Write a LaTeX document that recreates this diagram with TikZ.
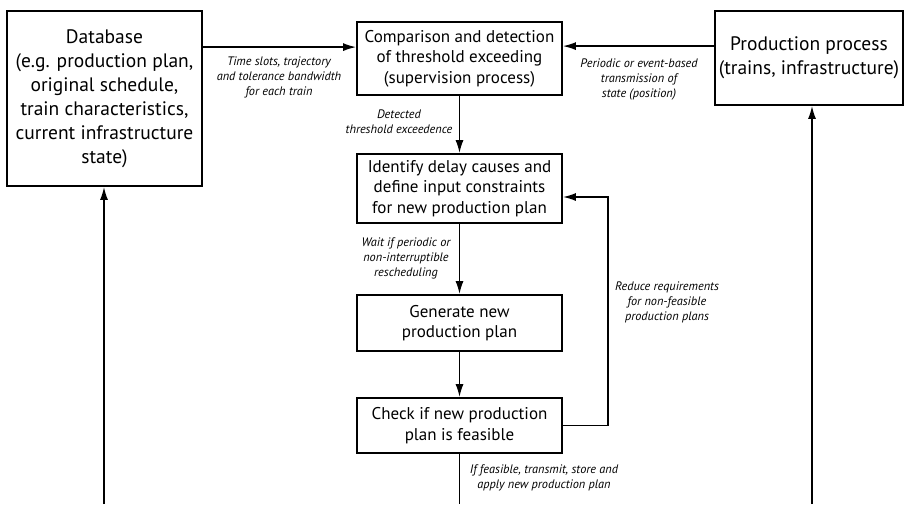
\documentclass[tikz,border=0pt]{standalone}
\usepackage{fontspec,tikz}
\usetikzlibrary{arrows.meta}
\setmainfont{PT Sans}

\begin{document}
\begin{tikzpicture}[x=1pt,y=-1pt,
  box/.style={draw,line width=1.8pt,inner sep=0pt,align=center,font=\fontsize{17.0}{20.5}\selectfont},
  bigbox/.style={box,font=\fontsize{19.5}{24.0}\selectfont},
  lbl/.style={inner sep=0pt,align=center,font=\fontsize{12.3}{15.0}\selectfont\itshape},
  arr/.style={line width=1.5pt,-{Latex[length=13pt,width=8pt]}},
  ln/.style={line width=1.5pt}]
\path[use as bounding box] (0,0) rectangle (906.0,504.0);
\node[bigbox,minimum width=195pt,minimum height=175pt] (db) at (104.5,98.5) {Database\\(e.g. production plan,\\original schedule,\\train characteristics,\\current infrastructure\\state)};
\node[box,minimum width=205pt,minimum height=73pt] (cmp) at (459.5,58.5) {Comparison and detection\\of threshold exceeding\\(supervision process)};
\node[bigbox,minimum width=188pt,minimum height=94pt] (prod) at (809,58) {Production process\\(trains, infrastructure)};
\node[box,minimum width=205pt,minimum height=69pt] (idf) at (459.5,188.5) {Identify delay causes and\\define input constraints\\for new production plan};
\node[box,minimum width=205pt,minimum height=56pt] (gen) at (459.5,323) {Generate new\\production plan};
\node[box,minimum width=205pt,minimum height=55pt] (chk) at (459.5,425.5) {Check if new production\\plan is feasible};
\node[lbl] (lbltime) at (279,77) {Time slots, trajectory\\and tolerance bandwidth\\for each train};
\node[lbl] (lblper) at (639,79) {Periodic or event-based\\transmission of\\state (position)};
\node[lbl] (lbldet) at (399,121.5) {Detected\\threshold exceedence};
\node[lbl] (lblwait) at (406,258) {Wait if periodic or\\non-interruptible\\rescheduling};
\node[lbl] (lblred) at (667,302.5) {Reduce requirements\\for non-feasible\\production plans};
\node[lbl] (lblfeas) at (544,478) {If feasible, transmit, store and\\apply new production plan};
\coordinate (dbin) at (104,504);
\coordinate (prodin) at (812,504);
\coordinate (chkout) at (459.5,504);
\draw[arr] ([yshift=-37pt]db.north east) coordinate (dbout) -- (dbout -| cmp.west);
\draw[arr] ([yshift=-36pt]prod.north west) coordinate (prodout) -- (prodout -| cmp.east);
\draw[arr] (cmp.south) -- (idf.north);
\draw[arr] (idf.south) -- (gen.north);
\draw[arr] (gen.south) -- (chk.north);
\draw[arr] (chk.east) -- ++(45,0) |- ([yshift=-8.5pt]idf.east);
\draw[ln] (chk.south) -- (chkout);
\draw[arr] (dbin) -- (dbin |- db.south);
\draw[arr] (prodin) -- (prodin |- prod.south);
\end{tikzpicture}
\end{document}
